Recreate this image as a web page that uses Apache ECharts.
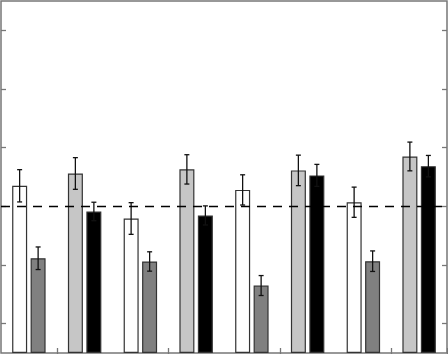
<!DOCTYPE html>
<html>
<head>
<meta charset="utf-8">
<script src="https://cdn.jsdelivr.net/npm/echarts@6/dist/echarts.min.js"></script>
<style>
  html, body { margin: 0; padding: 0; background: #fff; }
  #chart { width: 448px; height: 354px; }
</style>
</head>
<body>
<div id="chart"></div>
<script>
// 8 categories, two bars in each (left / right)
const categories = ['1', '2', '3', '4', '5', '6', '7', '8'];

// odd categories: white + dark gray, even categories: light gray + black
const whiteVals = [1.14, 0.917, 1.112, 1.028];
const whiteErr = [0.11, 0.108, 0.103, 0.103];
const darkVals = [0.646, 0.624, 0.46, 0.626];
const darkErr = [0.077, 0.066, 0.068, 0.07];
const lightVals = [1.224, 1.252, 1.245, 1.34];
const lightErr = [0.108, 0.1, 0.104, 0.098];
const blackVals = [0.965, 0.938, 1.211, 1.274];
const blackErr = [0.063, 0.065, 0.075, 0.073];

const refLine = 1;
const yTicks = [0.2, 0.6, 1.0, 1.4, 1.8, 2.2];

const frameColor = '#777';
const barWidth = 15;
const barOffset = 9.25; // half of (bar width + gap), px

// interleave the groups into the two bar series
var leftData = [], rightData = [], leftErr = [], rightErr = [];
for (var i = 0; i < 4; i++) {
  leftData.push({ value: whiteVals[i], itemStyle: { color: '#fff' } });
  leftData.push({ value: lightVals[i], itemStyle: { color: '#c6c6c6' } });
  rightData.push({ value: darkVals[i], itemStyle: { color: '#808080' } });
  rightData.push({ value: blackVals[i], itemStyle: { color: '#000' } });
  leftErr.push([2 * i, whiteVals[i] - whiteErr[i], whiteVals[i] + whiteErr[i]]);
  leftErr.push([2 * i + 1, lightVals[i] - lightErr[i], lightVals[i] + lightErr[i]]);
  rightErr.push([2 * i, darkVals[i] - darkErr[i], darkVals[i] + darkErr[i]]);
  rightErr.push([2 * i + 1, blackVals[i] - blackErr[i], blackVals[i] + blackErr[i]]);
}

function errorRender(side) {
  return function (params, api) {
    var lo = api.coord([api.value(0), api.value(1)]);
    var hi = api.coord([api.value(0), api.value(2)]);
    var x = lo[0] + side * barOffset;
    var style = { stroke: '#111', lineWidth: 1.3 };
    return {
      type: 'group',
      children: [
        { type: 'line', shape: { x1: x, y1: lo[1], x2: x, y2: hi[1] }, style: style },
        { type: 'line', shape: { x1: x - 2.5, y1: lo[1], x2: x + 2.5, y2: lo[1] }, style: style },
        { type: 'line', shape: { x1: x - 2.5, y1: hi[1], x2: x + 2.5, y2: hi[1] }, style: style }
      ]
    };
  };
}

var yAxisBase = {
  type: 'value',
  min: 0,
  max: 2.4,
  axisLine: { show: false },
  splitLine: { show: false },
  axisLabel: { show: false },
  axisTick: {
    show: true,
    inside: true,
    length: 5,
    customValues: yTicks,
    lineStyle: { color: frameColor, width: 1.3 }
  }
};

var xAxisBase = {
  type: 'category',
  data: categories,
  axisLine: { show: false },
  axisLabel: { show: false },
  axisTick: {
    show: true,
    inside: true,
    length: 5,
    interval: function (index) { return index % 2 === 1; },
    lineStyle: { color: frameColor, width: 1.3 }
  }
};

var myChart = echarts.init(document.getElementById('chart'));

var option = {
  animation: false,
  grid: {
    left: 1, right: 1, top: 1, bottom: 1,
    show: true,
    borderColor: frameColor,
    borderWidth: 1.5,
    backgroundColor: '#fff'
  },
  xAxis: [
    Object.assign({}, xAxisBase, { position: 'bottom' }),
    Object.assign({}, xAxisBase, { position: 'top' })
  ],
  yAxis: [
    Object.assign({}, yAxisBase, { position: 'left' }),
    Object.assign({}, yAxisBase, { position: 'right' })
  ],
  series: [
    {
      type: 'bar',
      data: leftData,
      barWidth: barWidth,
      barGap: '23%',
      itemStyle: { borderColor: '#333', borderWidth: 1.2 },
      markLine: {
        silent: true,
        symbol: 'none',
        label: { show: false },
        lineStyle: { color: '#000', type: [9, 7], width: 1.3 },
        data: [{ yAxis: refLine }]
      },
      z: 2
    },
    {
      type: 'bar',
      data: rightData,
      barWidth: barWidth,
      barGap: '23%',
      itemStyle: { borderColor: '#333', borderWidth: 1.2 },
      z: 2
    },
    {
      type: 'custom',
      renderItem: errorRender(-1),
      data: leftErr,
      encode: { x: 0, y: [1, 2] },
      z: 3
    },
    {
      type: 'custom',
      renderItem: errorRender(1),
      data: rightErr,
      encode: { x: 0, y: [1, 2] },
      z: 3
    }
  ]
};

myChart.setOption(option);
</script>
</body>
</html>
